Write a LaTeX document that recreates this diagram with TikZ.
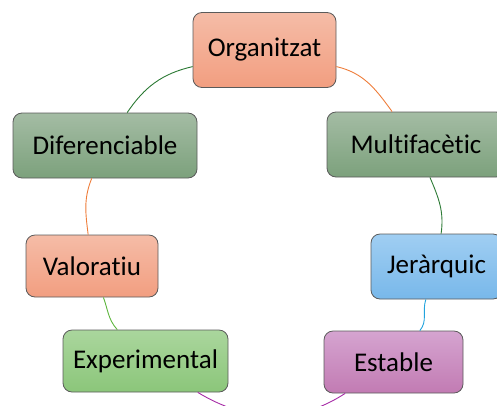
\documentclass[tikz,border=0pt]{standalone}
\usepackage{fontspec}
\setmainfont{Carlito}[Ligatures=NoCommon]
\usetikzlibrary{positioning}

\definecolor{boxline}{HTML}{5A5A5A}
\definecolor{salmontop}{HTML}{F5BCA7}
\definecolor{salmonbot}{HTML}{F29E80}
\definecolor{sagetop}{HTML}{A4BCA4}
\definecolor{sagebot}{HTML}{7CA17C}
\definecolor{skytop}{HTML}{A0CEF2}
\definecolor{skybot}{HTML}{78B8EA}
\definecolor{plumtop}{HTML}{D5A4D0}
\definecolor{plumbot}{HTML}{C27BB3}
\definecolor{leaftop}{HTML}{AAD69D}
\definecolor{leafbot}{HTML}{8BC67A}
\definecolor{darkgreen}{HTML}{2C7A35}
\definecolor{orangeline}{HTML}{EE7D3A}
\definecolor{lightgreen}{HTML}{5DB53D}
\definecolor{blueline}{HTML}{22A3DD}
\definecolor{purpleline}{HTML}{A62BA6}

\begin{document}
\begin{tikzpicture}[
  x=1pt, y=-1pt,
  node/.style={
    draw=boxline,
    line width=0.8pt,
    rounded corners=9pt,
    inner sep=0pt,
    minimum height=62pt,
    font=\fontsize{27}{31}\selectfont
  },
  salmon/.style={top color=salmontop, bottom color=salmonbot},
  sage/.style={top color=sagetop, bottom color=sagebot},
  sky/.style={top color=skytop, bottom color=skybot},
  plum/.style={top color=plumtop, bottom color=plumbot},
  leaf/.style={top color=leaftop, bottom color=leafbot},
  edge/.style={line width=0.9pt}
]
\useasboundingbox (0,0) rectangle (497,405);

\node[node, salmon, minimum width=143pt, minimum height=75pt] (org) at (264.5,50) {Organitzat};
\node[node, sage, minimum width=184pt, minimum height=65pt] (dif) at (105,145.5) {Diferenciable};
\node[node, sage, minimum width=178pt, minimum height=65pt] (mul) at (416,144.5) {Multifacètic};
\node[node, salmon, minimum width=132pt] (val) at (92,266) {Valoratiu};
\node[node, sky, minimum width=131pt, minimum height=65pt] (jer) at (436.5,266.5) {Jeràrquic};
\node[node, leaf, minimum width=165pt] (exp) at (145.5,361) {Experimental};
\node[node, plum, minimum width=139pt] (est) at (393.5,362) {Estable};

\draw[edge, darkgreen] (org) to[out=193, in=56] (dif);
\draw[edge, orangeline] (org) to[out=347, in=126] (mul);
\draw[edge, orangeline] (dif) to[out=248, in=97] (val);
\draw[edge, darkgreen] (mul) to[out=293, in=82] (jer);
\draw[edge, lightgreen] (val) to[out=290, in=132] (exp);
\draw[edge, blueline] (jer) to[out=252, in=50] (est);
\draw[edge, purpleline] (exp) to[out=329, in=213] (est);

\end{tikzpicture}
\end{document}
